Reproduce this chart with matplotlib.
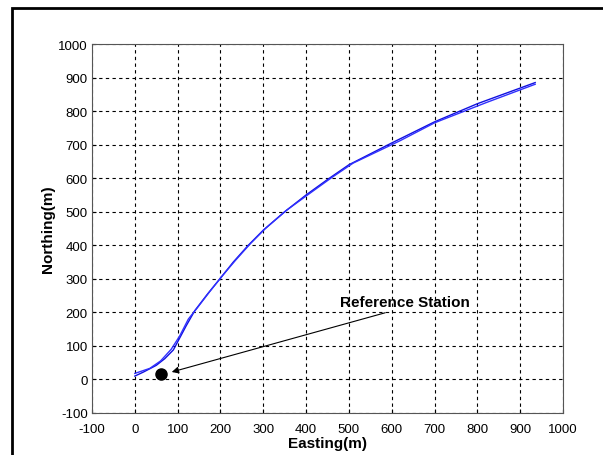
import matplotlib
matplotlib.use("Agg")
import matplotlib.pyplot as plt
from matplotlib.patches import Rectangle

# outbound track
east_out = [0, 20, 50, 70, 90, 100, 120, 140, 170, 200, 230, 265, 300, 350, 400, 450, 500, 600, 700, 750, 800, 935]
north_out = [10, 22, 42, 62, 88, 112, 160, 205, 255, 302, 350, 400, 445, 500, 550, 596, 640, 705, 768, 795, 822, 885]
# return track
east_back = [935, 820, 760, 700, 620, 510, 460, 410, 355, 305, 270, 235, 205, 175, 145, 125, 105, 85, 60, 35, 0]
north_back = [880, 825, 795, 765, 712, 645, 602, 556, 505, 450, 405, 355, 310, 262, 212, 180, 130, 90, 55, 33, 18]

station_e = [60]
station_n = [15]
label_text = "Reference Station"
label_pos = (632, 231)
arrow_start = (591, 201)
arrow_end = (80, 20)

xticks = list(range(-100, 1001, 100))
yticks = list(range(-100, 1001, 100))

plt.rcParams['font.family'] = ['Liberation Sans', 'DejaVu Sans']
plt.rcParams['axes.unicode_minus'] = False
fig = plt.figure(figsize=(6.03, 4.56), dpi=100)
fig.patches.append(Rectangle((12/603, -0.1), 1.2, 1 - 9/456 + 0.1, transform=fig.transFigure,
                             fill=False, edgecolor='black', linewidth=2))
ax = fig.add_axes([92/603, 1 - 414/456, (563-92)/603, (414-45)/456])

ax.plot(east_out, north_out, color='#1010e0', lw=1.0)
ax.plot(east_back, north_back, color='#3030ff', lw=1.0)
ax.plot(station_e, station_n, 'o', color='black', markersize=8)
ax.annotate('', xy=arrow_end, xytext=arrow_start,
            arrowprops=dict(arrowstyle='-|>', color='black', lw=0.8, mutation_scale=10))
ax.text(label_pos[0], label_pos[1], label_text, ha='center', va='center', fontsize=11, fontweight='bold')

ax.set_xlim(-100, 1000)
ax.set_ylim(-100, 1000)
ax.set_xticks(xticks)
ax.set_yticks(yticks)
ax.tick_params(direction='in', length=3, labelsize=9.5)
ax.tick_params(axis='x', pad=7)
ax.tick_params(axis='y', pad=3)
ax.grid(True, color='black', linestyle=(0, (3, 3)), linewidth=0.8)
for s in ax.spines.values():
    s.set_color('#555555')
ax.set_xlabel('Easting(m)', fontsize=11, fontweight='bold', labelpad=1)
ax.set_ylabel('Northing(m)', fontsize=11, fontweight='bold', labelpad=2)

fig.savefig('out.png', dpi=100)
